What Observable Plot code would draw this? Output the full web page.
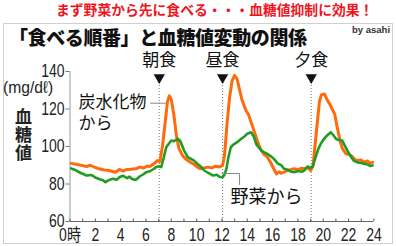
<!DOCTYPE html>
<html><head><meta charset="utf-8">
<script src="https://cdn.jsdelivr.net/npm/d3@7"></script>
<script src="https://cdn.jsdelivr.net/npm/@observablehq/plot@0.6"></script>
<style>
body{margin:0;background:#fff;}
#wrap{position:relative;width:396px;height:246px;overflow:hidden;font-family:'Liberation Sans',"Noto Sans CJK JP",sans-serif;}
#wrap svg{position:absolute;left:0;top:0;}
.abs{position:absolute;white-space:nowrap;line-height:1;}
#vlab{position:absolute;left:15px;top:108px;font-size:17px;font-weight:700;color:#222;line-height:1;writing-mode:vertical-rl;letter-spacing:1px;font-family:"Noto Sans CJK JP",sans-serif;}
#frame{position:absolute;left:3px;top:23px;width:388px;height:219px;border:1px solid #d0d0d0;}
</style></head>
<body><div id="wrap">
<div id="frame"></div>
<div class="abs" id="t1" style="left:56px;top:4px;font-size:13.8px;font-weight:700;color:#f0141e;">まず野菜から先に食べる・・・血糖値抑制に効果！</div>
<div class="abs" id="t2" style="left:9px;top:28.5px;font-size:19px;font-weight:900;color:#111;letter-spacing:-0.4px;">「食べる順番」と血糖値変動の関係</div>
<div class="abs" style="left:352px;top:25px;font-size:9.5px;font-weight:700;color:#333;">by asahi</div>
<div class="abs" style="left:3px;top:79px;font-size:17px;color:#222;transform:scaleX(0.92);transform-origin:left top;">(mg/dℓ)</div>
<div id="vlab">血糖値</div>
</div>
<script>
const hours = [0,2,4,6,8,10,12,14,16,18,20,22,24];
const yTicks = [60,80,100,120,140];
const meals = [{h:7.05,label:"朝食"},{h:12.05,label:"昼食"},{h:19.05,label:"夕食"}];

const carbHours = [0.1,0.5,1.0,1.3,1.6,2.0,2.3,2.7,3.0,3.3,3.6,3.9,4.2,4.4,4.8,5.2,5.5,5.8,6.1,6.3,6.6,6.9,7.1,7.3,7.5,7.7,7.85,8.0,8.2,8.4,8.6,8.9,9.2,9.5,9.8,10.1,10.3,10.6,10.9,11.2,11.5,11.8,12.05,12.2,12.4,12.6,12.8,13.0,13.2,13.4,13.6,13.9,14.1,14.3,14.5,14.7,14.9,15.1,15.3,15.6,15.9,16.1,16.3,16.5,16.7,16.9,17.2,17.5,17.7,18.0,18.3,18.5,18.8,19.0,19.2,19.4,19.55,19.7,19.85,20.1,20.3,20.5,20.7,20.9,21.1,21.3,21.5,21.8,22.0,22.2,22.5,22.7,23.0,23.2,23.5,23.7,23.9];
const carbValues = [91,90.5,89.8,89.3,90,88.8,88.1,87.5,87.3,86.8,86.3,87.8,86.9,87.6,87.9,88.1,89,88.5,89.6,89.3,90.6,92.5,92,100,112,124,127,125,117,106,99,95,93,91.6,90.5,88.8,88.1,88.6,89,88.6,89.5,89.1,89.9,95,112,126,135,138,136,130,124.5,119.2,117,113,109,105,101,98,96,94.3,90.8,88,85.4,86.5,85.8,86.3,87.2,87.8,88.1,87.6,88.4,88.1,88.6,87.2,90,104,114,124,127.5,128,125,122.8,120,117.4,110.3,104,99,96.1,95.8,95.2,93,92.5,92.8,91.6,92.3,91,91.6];

const vegHours = [0.1,0.4,0.8,1.1,1.3,1.7,2.0,2.3,2.6,2.8,3.1,3.4,3.7,3.9,4.2,4.5,4.7,4.9,5.2,5.5,5.8,6.0,6.3,6.6,6.8,7.0,7.2,7.4,7.6,7.8,8.0,8.2,8.5,8.7,8.8,9.0,9.3,9.6,9.8,10.1,10.3,10.6,10.9,11.1,11.3,11.6,11.8,12.05,12.2,12.35,12.5,12.7,12.9,13.2,13.5,13.8,14.0,14.3,14.5,14.7,14.9,15.1,15.3,15.6,15.9,16.1,16.4,16.7,16.9,17.2,17.5,17.7,18.0,18.3,18.5,18.75,19.0,19.15,19.4,19.6,19.8,20.0,20.3,20.6,20.8,21.0,21.2,21.5,21.7,21.9,22.1,22.4,22.7,23.0,23.2,23.5,23.7,23.9];
const vegValues = [88.3,87.5,86,85.2,84.5,84.8,83.5,82.7,82,81,82.2,82.8,82.3,83.6,84.4,83.1,83.9,82.7,82.2,84,85.2,86.3,86.8,88,89,89.5,89,94,99.6,101.5,103.2,102.8,104.1,103,101.4,98,94.3,93.2,92.5,90.5,89.5,87.2,86,85.3,84.5,84.9,83.9,83.6,85,88,94,99.6,101,102.3,104,105.5,106.8,107.6,105.5,101.4,99.5,97.9,97,96,94.6,93.4,91,89.9,88.1,87.6,86.5,86.3,86.9,86.5,87.2,89.3,88.6,89,94.3,98.5,101.4,103.5,105.9,107.6,106,104.1,103.5,103.2,100.5,97.9,95.5,92.5,91.5,91.2,90.8,90.4,89.6,89.9];

const carb = carbHours.map((h,i)=>({h, v: carbValues[i]}));
const veg = vegHours.map((h,i)=>({h, v: vegValues[i]}));
const minor = d3.range(0,25);
const jp = "'Liberation Sans','Noto Sans CJK JP',sans-serif";

const chart = Plot.plot({
  width: 396, height: 246,
  marginLeft: 69.5, marginRight: 22.6, marginTop: 71, marginBottom: 25,
  style: {fontFamily: jp, background: "transparent", color: "#222"},
  x: {domain: [0,24], label: null},
  y: {domain: [60,140], label: null},
  marks: [
    Plot.ruleX(meals, {x: "h", y1: 60, y2: 135.5, stroke: "#777", strokeWidth: 1, strokeDasharray: "1,2"}),
    Plot.ruleY([60], {stroke: "#666", strokeWidth: 1.2}),
    Plot.ruleX([0], {y1: 60, y2: 140, stroke: "#999", strokeWidth: 1}),
    Plot.ruleX(minor, {x: d=>d, y1: 60, y2: 61.3, stroke: "#555", strokeWidth: 1}),
    Plot.axisY({ticks: yTicks, tickSize: 4, tickPadding: 1.5, fontSize: 17.5, stroke: "#777", anchor: "left", label: null}),
    Plot.axisX({ticks: hours, tickSize: 0, tickPadding: 7, fontSize: 17.5, label: null, tickFormat: d => d === 0 ? "0時" : String(d)}),
    Plot.line(carb, {x: "h", y: "v", stroke: "#ff6a0a", strokeWidth: 3}),
    Plot.line(veg, {x: "h", y: "v", stroke: "#1f9c22", strokeWidth: 2.6}),
    Plot.dot(meals, {x: "h", y: 136.8, symbol: "triangle", rotate: 180, r: 4.2, fill: "#111", stroke: null}),
    Plot.text(meals, {x: "h", y: 145.6, text: "label", fontSize: 17, fill: "#111"}),
    Plot.line([{h:6.36,v:123.1},{h:7.54,v:123.1}], {x:"h", y:"v", stroke:"#888", strokeWidth:1}),
    Plot.line([{h:12.0,v:85.6},{h:13.39,v:85.6},{h:13.39,v:79.7}], {x:"h", y:"v", stroke:"#888", strokeWidth:1}),
    Plot.text(["炭水化物"], {x: 0.67, y: 123.6, text: d=>d, textAnchor: "start", fontSize: 17, fill: "#111"}),
    Plot.text(["から"], {x: 0.67, y: 112.4, text: d=>d, textAnchor: "start", fontSize: 17, fill: "#111"}),
    Plot.text(["野菜から"], {x: 12.68, y: 73.1, text: d=>d, textAnchor: "start", fontSize: 18, fill: "#111"})
  ]
});
// condense axis tick labels (narrow typeface look)
d3.select(chart).selectAll("g[aria-label$='tick label'] text").each(function(){
  const t = this.getAttribute("transform");
  if (t) this.setAttribute("transform", t + " scale(0.8,1)");
  else {
    const x = +this.getAttribute("x") || 0, y = +this.getAttribute("y") || 0;
    this.setAttribute("transform", `translate(${x},${y}) scale(0.8,1) translate(${-x},${-y})`);
  }
});
document.getElementById("wrap").appendChild(chart);
</script>
</body></html>
